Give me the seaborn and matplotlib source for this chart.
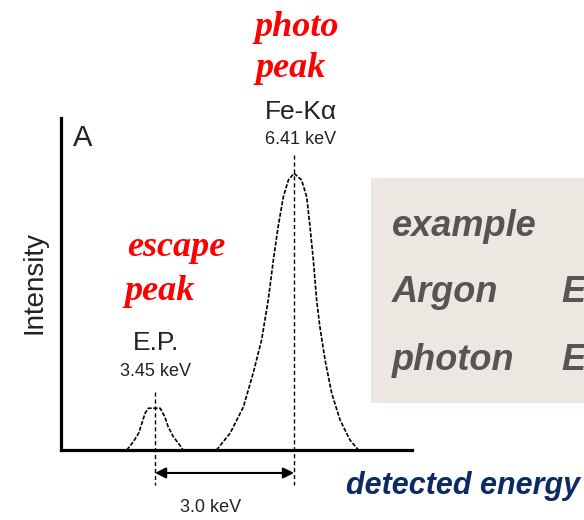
import numpy as np
import pandas as pd
import matplotlib
matplotlib.use("Agg")
import matplotlib.pyplot as plt
import seaborn as sns

# ---- data ----
ep_energy = [2.85, 2.99, 3.10, 3.17, 3.24, 3.31, 3.45, 3.56, 3.66, 3.73, 3.84, 3.95, 4.05]
ep_intensity = [0.0, 3.0, 6.0, 9.6, 13.3, 15.1, 15.1, 15.1, 12.0, 8.4, 4.8, 2.4, 0.0]
fe_energy = [4.76, 5.05, 5.33, 5.54, 5.72, 5.86, 5.97, 6.07, 6.18, 6.29, 6.41,
             6.57, 6.68, 6.75, 6.82, 6.89, 6.96, 7.07, 7.21, 7.39, 7.60, 7.78]
fe_intensity = [0.0, 6.1, 15.5, 27.8, 39.8, 54.2, 68.7, 80.6, 91.4, 97.6, 100.0,
                97.6, 91.4, 80.6, 68.7, 54.2, 44.5, 32.5, 20.6, 10.8, 3.6, 0.0]
peak_energies = [3.45, 6.41]
peak_names = ["E.P.", "Fe-K\u03b1"]
peak_values = ["3.45 keV", "6.41 keV"]
separation_label = "3.0 keV"
box_rows = [["example", ""], ["Argon", "E"], ["photon", "E"]]

W, H = 584, 520
sns.set_style("white")
plt.rcParams["font.family"] = ["Liberation Sans", "DejaVu Sans"]

fig = plt.figure(figsize=(W / 100, H / 100), dpi=100)
fig.patch.set_facecolor("white")

def px(x, y):
    return x / W, 1 - y / H

# grey box on the right
fig.patches.append(plt.Rectangle(px(371, 403), (W - 371) / W, (403 - 178) / H,
                                 transform=fig.transFigure, facecolor="#ede7e1",
                                 edgecolor="none", zorder=0))
row_y = [227, 293, 360]
for (left, right), yy in zip(box_rows, row_y):
    fig.text(*px(392, yy), left, fontsize=26, fontweight="bold", fontstyle="italic",
             color="#555555", va="center", ha="left")
    if right:
        fig.text(*px(561, yy), right, fontsize=26, fontweight="bold", fontstyle="italic",
                 color="#555555", va="center", ha="left")

ax = fig.add_axes([61 / W, 70 / H, 351 / W, 332 / H])
ax.set_facecolor("none")
ax.set_xlim(1.45, 8.92)
ax.set_ylim(0, 120)

ep_df = pd.DataFrame({"energy": ep_energy, "intensity": ep_intensity})
fe_df = pd.DataFrame({"energy": fe_energy, "intensity": fe_intensity})
for df in (ep_df, fe_df):
    sns.lineplot(data=df, x="energy", y="intensity", ax=ax, color="black",
                 lw=1.2, linestyle=(0, (2.5, 1)), sort=False)

# dashed markers
tops = [21.0, 106.6]
for e, t in zip(peak_energies, tops):
    ax.plot([e, e], [t, -12.6], color="black", lw=1.0, ls=(0, (3, 2)), clip_on=False)

ax.annotate("", xy=(peak_energies[1], -8.3), xytext=(peak_energies[0], -8.3),
            arrowprops=dict(arrowstyle="<|-|>", color="black", lw=1.5,
                            mutation_scale=16, shrinkA=0, shrinkB=0),
            annotation_clip=False)

for s in ["top", "right"]:
    ax.spines[s].set_visible(False)
for s in ["left", "bottom"]:
    ax.spines[s].set_linewidth(2.3)
    ax.spines[s].set_color("black")
ax.set_xticks([])
ax.set_yticks([])
ax.set_xlabel("")
ax.set_ylabel("")

# texts
fig.text(*px(35, 282), "Intensity", rotation=90, fontsize=20, color="#222222",
         ha="center", va="center")
fig.text(*px(83, 138), "A", fontsize=21, color="#222222", ha="center", va="center")
fig.text(*px(156, 343), peak_names[0], fontsize=19, color="#222222", ha="center", va="center")
fig.text(*px(156, 371), peak_values[0], fontsize=13, color="#222222", ha="center", va="center")
fig.text(*px(301, 112), peak_names[1], fontsize=19, color="#222222", ha="center", va="center")
fig.text(*px(301, 140), peak_values[1], fontsize=13, color="#222222", ha="center", va="center")
fig.text(*px(211, 508), separation_label, fontsize=13, color="#222222", ha="center", va="center")

red_kw = dict(fontsize=26, fontweight="bold", fontstyle="italic", color="#ff0000",
              family=["Liberation Serif", "DejaVu Serif"], ha="center", va="baseline")
fig.text(*px(297, 36), "photo", **red_kw)
fig.text(*px(291, 77), "peak", **red_kw)
fig.text(*px(176, 256), "escape", **red_kw)
fig.text(*px(160, 300), "peak", **red_kw)

fig.text(*px(580, 486), "detected energy", fontsize=22, fontweight="bold",
         fontstyle="italic", color="#0b2a66", ha="right", va="center")

fig.savefig("out.png", dpi=100)
